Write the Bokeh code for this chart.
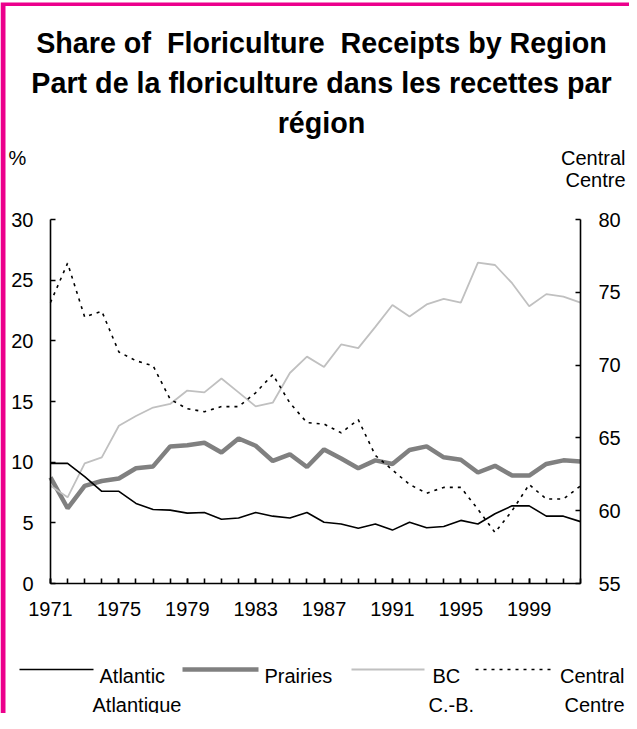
from bokeh.plotting import figure
from bokeh.models import Range1d, LinearAxis, FixedTicker, Label
from bokeh.embed import file_html
from bokeh.resources import INLINE

years = list(range(1971, 2003))
atlantic = [9.9, 9.9, 8.8, 7.6, 7.6, 6.6, 6.1, 6.05, 5.8, 5.85, 5.3, 5.4, 5.85, 5.55, 5.4, 5.85,
            5.05, 4.9, 4.55, 4.9, 4.4, 5.05, 4.6, 4.7, 5.2, 4.9, 5.75, 6.4, 6.4, 5.55, 5.55, 5.1]
prairies = [8.75, 6.2, 8.05, 8.45, 8.65, 9.5, 9.65, 11.3, 11.4, 11.6, 10.8, 11.95, 11.35, 10.1, 10.65, 9.6,
            11.05, 10.3, 9.5, 10.15, 9.85, 11.0, 11.3, 10.4, 10.2, 9.15, 9.7, 8.9, 8.9, 9.85, 10.15, 10.05]
bc = [8.05, 7.1, 9.9, 10.4, 13.0, 13.8, 14.5, 14.8, 15.9, 15.75, 16.9, 15.75, 14.6, 14.9, 17.35, 18.7,
      17.85, 19.7, 19.4, 21.15, 22.95, 22.0, 23.0, 23.45, 23.15, 26.45, 26.25, 24.75, 22.85, 23.85, 23.65, 23.15]
central = [74.3, 77.0, 73.3, 73.7, 70.9, 70.3, 69.95, 67.65, 67.0, 66.8, 67.15, 67.15, 68.1, 69.35, 67.4, 66.05,
           65.95, 65.35, 66.25, 63.8, 62.8, 61.8, 61.2, 61.6, 61.6, 60.1, 58.5, 60.0, 61.8, 60.8, 60.8, 61.7]

x_label_years = [1971, 1975, 1979, 1983, 1987, 1991, 1995, 1999]
left_ticks = [0, 5, 10, 15, 20, 25, 30]
right_ticks = [55, 60, 65, 70, 75, 80]

title_lines = ["Share of\u00a0\u00a0Floriculture\u00a0\u00a0Receipts by Region",
               "Part de la floriculture dans les recettes par",
               "région"]

FONT = "Liberation Sans"
PINK = "#EC008C"

# page-pixel geometry of the plot area
PX_L, PX_R, PY_T, PY_B = 58, 588, 227, 591
X0, X1 = years[0], years[-1]
L0, L1 = left_ticks[0], left_ticks[-1]
R0, R1 = right_ticks[0], right_ticks[-1]
W, H = 629, 713          # canvas, placed at page (8, 8); fits with both margins

xs = (PX_R - PX_L) / (X1 - X0)
ys = (PY_B - PY_T) / (L1 - L0)
rs = (PY_B - PY_T) / (R1 - R0)

def X(px):
    return X0 + (px - PX_L) / xs

def Y(py):
    return L0 + (PY_B - py) / ys

p = figure(width=W, height=H,
           x_range=Range1d(X(8), X(8 + W)), y_range=Range1d(Y(8 + H), Y(8)),
           output_backend="svg", toolbar_location=None, title_location=None,
           min_border_left=0, min_border_right=0, min_border_top=0, min_border_bottom=0,
           x_axis_location=None, y_axis_location=None)
p.outline_line_color = None
p.grid.grid_line_color = None
p.extra_y_ranges = {"c": Range1d(R0 + (PY_B - (8 + H)) / rs, R0 + (PY_B - 8) / rs)}

xaxis = LinearAxis(fixed_location=L0, bounds=(X0, X1),
                   ticker=FixedTicker(ticks=x_label_years, minor_ticks=years))
laxis = LinearAxis(fixed_location=X0, bounds=(L0, L1), ticker=FixedTicker(ticks=left_ticks))
raxis = LinearAxis(fixed_location=X1, bounds=(R0, R1), ticker=FixedTicker(ticks=right_ticks),
                   y_range_name="c")
p.add_layout(xaxis, "below")
p.add_layout(laxis, "left")
p.add_layout(raxis, "right")

for ax in (xaxis, laxis, raxis):
    ax.axis_line_color = "black"
    ax.axis_line_width = 1.6
    ax.major_tick_line_color = "black"
    ax.major_tick_line_width = 1.6
    ax.minor_tick_line_color = "black"
    ax.minor_tick_line_width = 1.6
    ax.major_tick_in = 5
    ax.major_tick_out = 0
    ax.minor_tick_in = 0
    ax.minor_tick_out = 0
    ax.major_label_text_font = FONT
    ax.major_label_text_font_size = "20px"
    ax.major_label_text_color = "black"
xaxis.minor_tick_in = 5
xaxis.major_label_standoff = 18
laxis.major_label_standoff = 17
raxis.major_label_standoff = 18

p.line(years, prairies, line_color="#808080", line_width=4.5)
p.line(years, bc, line_color="#C0C0C0", line_width=1.8)
p.line(years, atlantic, line_color="black", line_width=1.6)
p.line(years, central, line_color="black", line_width=1.6, line_dash="3 5", y_range_name="c")

def add_text(t, x, y, align="left", size="20px", style="normal"):
    p.add_layout(Label(x=X(x), y=Y(y), text=t,
                       text_font=FONT, text_font_size=size, text_font_style=style,
                       text_align=align, text_baseline="alphabetic", text_color="black"))

def add_seg(x0, x1, y0, y1, color, width, dash="solid"):
    p.line([X(x0), X(x1)], [Y(y0), Y(y1)], line_color=color, line_width=width, line_dash=dash)

# title
for t, yb in zip(title_lines, [50, 90, 130]):
    add_text(t, 329, yb, align="center", size="28.7px", style="bold")

add_text("%", 16, 165)
add_text("Central", 633, 165, align="right")
add_text("Centre", 633, 187, align="right")

# legend
add_seg(27, 101, 677, 677, "black", 1.6)
add_text("Atlantic", 107, 683)
add_text("Atlantique", 100, 712)
add_seg(190, 266, 677, 677, "#808080", 4.5)
add_text("Prairies", 272, 683)
add_seg(359, 432, 677, 677, "#C0C0C0", 1.8)
add_text("BC", 440, 683)
add_text("C.-B.", 436, 712)
add_seg(483, 559, 677, 677, "black", 1.6, "3 5")
add_text("Central", 632, 683, align="right")
add_text("Centre", 632, 712, align="right")

# pink frame (L-shaped border, top and left)
frame_px = [8, 637, 637, 13, 13, 8]
frame_py = [10, 10, 13.5, 13.5, 721, 721]
p.patch([X(v) for v in frame_px], [Y(v) for v in frame_py],
        fill_color=PINK, fill_alpha=1.0, line_color=None)

open("out.html", "w").write(file_html(p, INLINE))
